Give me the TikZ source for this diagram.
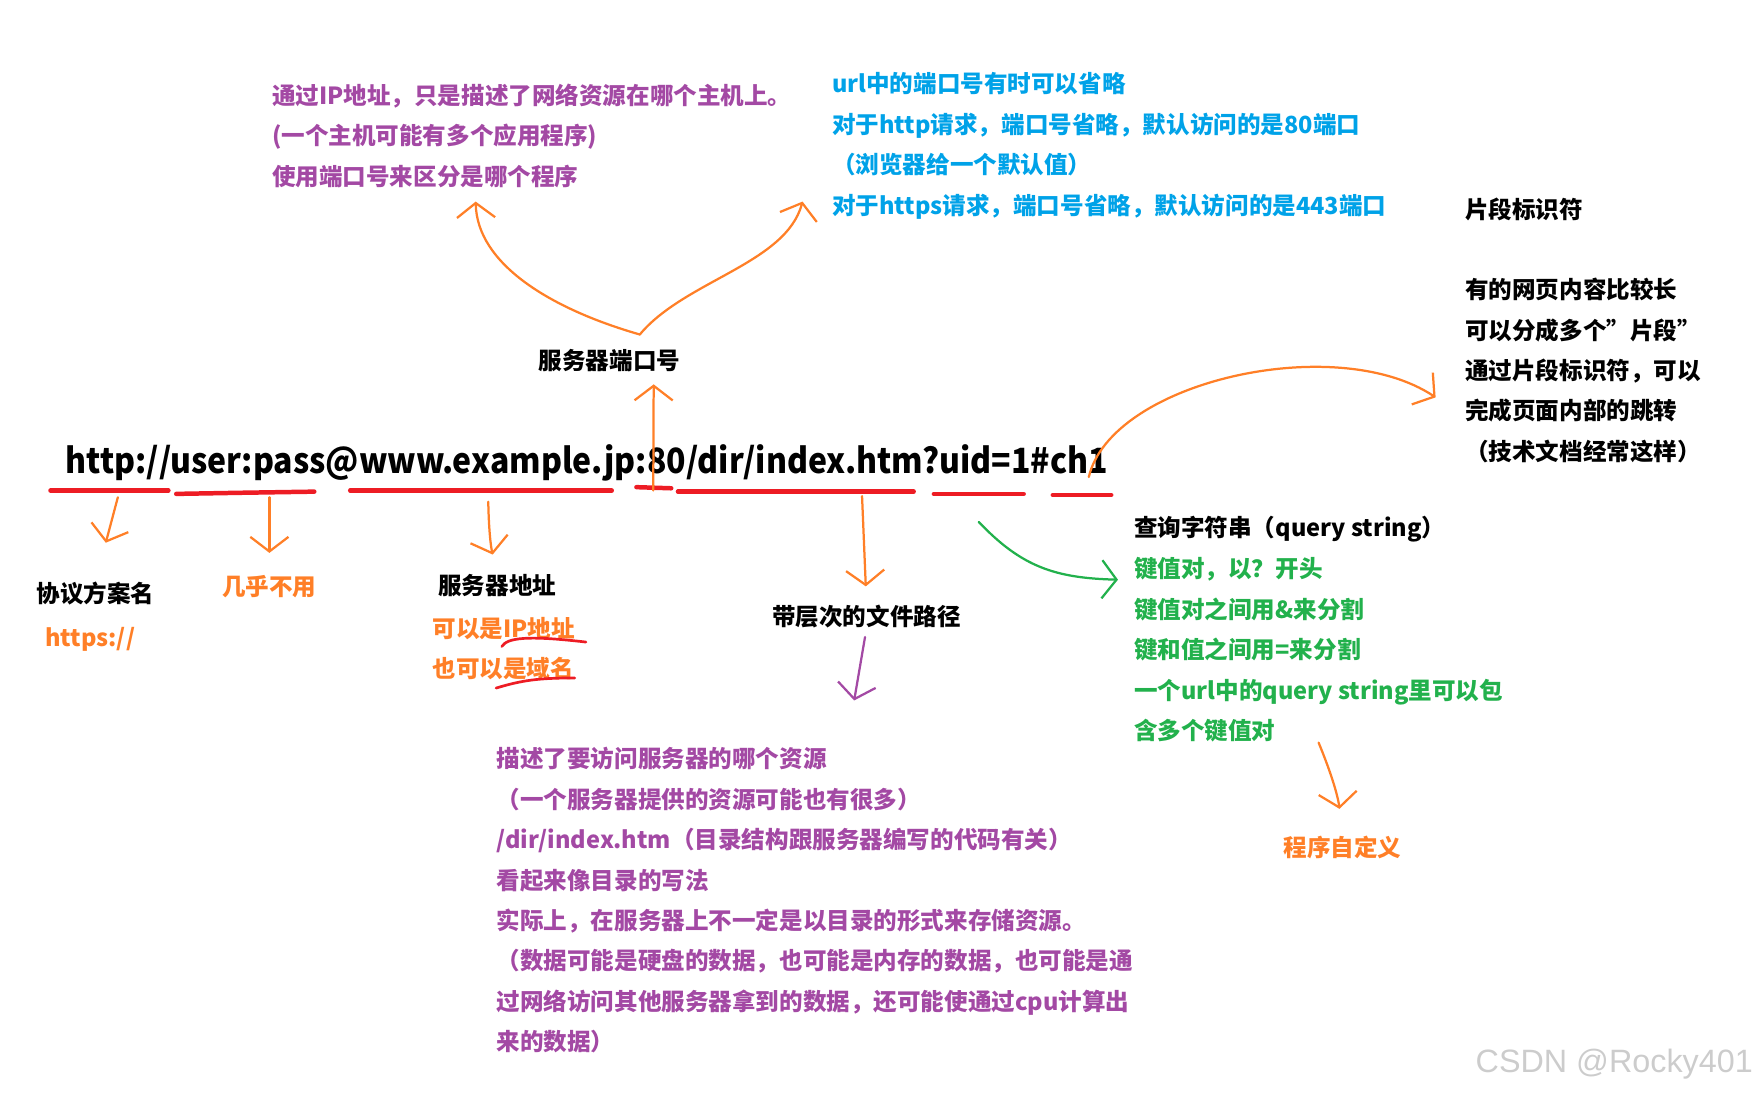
\documentclass[tikz,border=0pt]{standalone}
\usepackage{fontspec}
\setmainfont{Noto Sans CJK SC}
\newfontfamily\markfont{Liberation Sans}
\usetikzlibrary{arrows.meta}
\definecolor{mPurple}{HTML}{A349A4}
\definecolor{mBlue}{HTML}{00A2E8}
\definecolor{mGreen}{HTML}{22B14C}
\definecolor{mOrange}{HTML}{FF7F27}
\definecolor{mRed}{HTML}{ED1C24}
\tikzset{
  note/.style={anchor=west, align=left, inner sep=0pt, font=\fontsize{10.5}{18}\selectfont\bfseries},
  label/.style={inner sep=0pt, font=\fontsize{10.5}{18}\selectfont\bfseries},
  pen/.style={line width=1pt, line cap=round, line join=round, -{Straight Barb[length=6.5pt,width=17pt]}},
  redline/.style={mRed, line width=2pt, line cap=round},
}
\begin{document}
\begin{tikzpicture}[x=0.5pt, y=-0.5pt]
  \useasboundingbox (0,0) rectangle (1568,976);
  \node[note, mPurple] (ipnote) at (242,121) {通过IP地址，只是描述了网络资源在哪个主机上。\\(一个主机可能有多个应用程序)\\使用端口号来区分是哪个程序};
  \node[note, mBlue] (portnote) at (741,130) {url中的端口号有时可以省略\\对于http请求，端口号省略，默认访问的是80端口\\（浏览器给一个默认值）\\对于https请求，端口号省略，默认访问的是443端口};
  \node[note] (fraghead) at (1305,187) {片段标识符};
  \node[note] (fragnote) at (1305,330) {有的网页内容比较长\\可以分成多个"片段"\\通过片段标识符，可以\\完成页面内部的跳转\\（技术文档经常这样）};
  \node[label] (port) at (543,321) {服务器端口号};
  \node[anchor=west, inner sep=0pt, font=\fontsize{15.5}{20}\selectfont\bfseries] (url) at (58,412) {\scalebox{0.92}[1]{http://user:pass@www.example.jp:80/dir/index.htm?uid=1\#ch1}};
  \node[label] (scheme) at (85,529) {协议方案名};
  \node[note, mOrange] (schemex) at (40,570) {https://};
  \node[label, mOrange] (auth) at (240,523) {几乎不用};
  \node[label] (host) at (443,522) {服务器地址};
  \node[note, mOrange] (hostnote) at (385,578) {可以是IP地址\\也可以是域名};
  \node[label] (path) at (772,549) {带层次的文件路径};
  \node[note, mPurple] (pathnote) at (442,802) {描述了要访问服务器的哪个资源\\（一个服务器提供的资源可能也有很多）\\/dir/index.htm（目录结构跟服务器编写的代码有关）\\看起来像目录的写法\\实际上，在服务器上不一定是以目录的形式来存储资源。\\（数据可能是硬盘的数据，也可能是内存的数据，也可能是通\\过网络访问其他服务器拿到的数据，还可能使通过cpu计算出\\来的数据）};
  \node[note] (query) at (1010,471) {查询字符串（query string）};
  \node[note, mGreen] (querynote) at (1010,579) {键值对，以？开头\\键值对之间用\&来分割\\键和值之间用=来分割\\一个url中的query string里可以包\\含多个键值对};
  \node[label, mOrange] (custom) at (1196,755) {程序自定义};
  \node[anchor=east, inner sep=0pt, text=black!20, font=\markfont\fontsize{14.4}{15}\selectfont] (mark) at (1562,948) {CSDN @Rocky401};

  \draw[redline] (45,437) -- (150,437);
  \draw[redline] (157,440) -- (215,439) -- (280,438);
  \draw[redline] (312,437) -- (545,437);
  \draw[redline] (567,434) -- (598,435);
  \draw[redline] (604,438) -- (814,438);
  \draw[redline] (832,440) -- (912,440);
  \draw[redline] (938,441) -- (990,441);
  \draw[mRed, line width=1.2pt, line cap=round] (447,576) .. controls (452,568) and (470,566) .. (522,572);
  \draw[mRed, line width=1.2pt, line cap=round] (442,613) .. controls (465,606) and (480,604) .. (512,604);

  \coordinate (uscheme) at (105,443);
  \coordinate (uauth) at (240,443);
  \coordinate (uhost) at (435,447);
  \coordinate (uport) at (582,437);
  \coordinate (upath) at (768,442);
  \coordinate (uquery) at (872,465);
  \coordinate (ufrag) at (970,425);
  \coordinate (fork) at (570,298);

  \draw[pen, mOrange, shorten >=18pt] (uscheme) -- (scheme.north);
  \draw[pen, mOrange, shorten >=10pt] (uauth) -- (auth.north);
  \draw[pen, mOrange, shorten >=9pt] (uhost) to[bend right=6] (host.north);
  \draw[pen, mOrange, shorten >=5.5pt] (uport) -- ([xshift=-12pt]port.south east);
  \draw[pen, mOrange] (fork) .. controls (490,275) and (425,235) .. ([xshift=-25pt,yshift=-6pt]ipnote.south);
  \draw[pen, mOrange] (fork) .. controls (610,250) and (700,235) .. ([xshift=-13pt,yshift=8pt]portnote.south west);
  \draw[pen, mOrange, shorten >=8pt] (upath) -- (path.north);
  \draw[pen, mPurple, shorten <=4pt, shorten >=21pt] (path.south) -- ([xshift=14pt]pathnote.north);
  \draw[pen, mGreen] (uquery) .. controls (910,505) and (940,515) .. ([xshift=-7pt,yshift=-10pt]querynote.north west);
  \draw[pen, mOrange, shorten >=12pt] (querynote.south) to[bend left=8] (custom.north);
  \draw[pen, mOrange] (ufrag) .. controls (990,340) and (1190,295) .. ([xshift=-13pt,yshift=-12pt]fragnote.west);
\end{tikzpicture}
\end{document}
